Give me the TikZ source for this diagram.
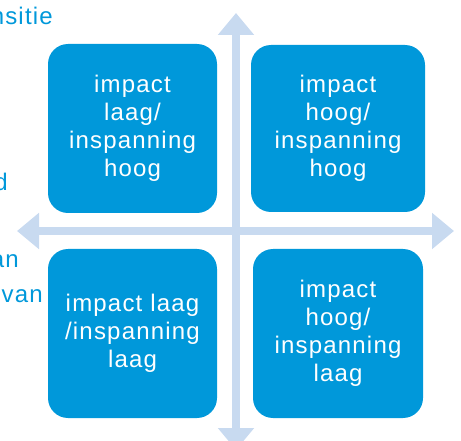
\documentclass[tikz,border=0pt]{standalone}
\usepackage{fontspec}
\setmainfont{Liberation Sans}
\newfontfamily\quadfont[LetterSpace=5]{Liberation Sans}
\usetikzlibrary{arrows.meta}
\definecolor{boxblue}{RGB}{0,152,218}
\definecolor{axisblue}{RGB}{200,218,240}
\tikzset{
  quad/.style={draw=none, fill=boxblue, rounded corners=20pt, text=white,
    align=center, font=\quadfont\fontsize{24}{28}\selectfont, inner sep=0pt},
  axis/.style={draw=axisblue, line width=8pt,
    {Triangle[width=35pt,length=22pt]}-{Triangle[width=35pt,length=22pt]}},
  sidetext/.style={text=boxblue, font=\quadfont\fontsize{24}{28}\selectfont,
    inner sep=0pt, anchor=base east}
}
\begin{document}
\begin{tikzpicture}[x=1pt,y=-1pt]
\useasboundingbox (0,0) rectangle (461,441);
\clip (0,0) rectangle (461,441);
% partial side texts
\node[sidetext] (s1) at (53,25) {nsitie};
\node[sidetext] (s2) at (8,191) {d};
\node[sidetext] (s3) at (19,267) {an};
\node[sidetext] (s4) at (43,302) {van};
% axes
\coordinate (L) at (17,231);
\coordinate (R) at (454,231);
\coordinate (T) at (236,13);
\coordinate (B) at (236,450);
\draw[axis] (L) -- (R);
\draw[axis] (T) -- (B);
% quadrants
\node[quad, minimum width=169pt, minimum height=169pt] (tl) at (132.5,128.5)
  {impact\\laag/\\inspanning\\hoog};
\node[quad, minimum width=174pt, minimum height=167pt] (tr) at (338,128.5)
  {impact\\hoog/\\inspanning\\hoog};
\node[quad, minimum width=169pt, minimum height=169pt] (bl) at (132.5,333.5)
  {impact laag\\/inspanning\\laag};
\node[quad, minimum width=170pt, minimum height=169pt] (br) at (338,333.5)
  {impact\\hoog/\\inspanning\\laag};
\end{tikzpicture}
\end{document}
